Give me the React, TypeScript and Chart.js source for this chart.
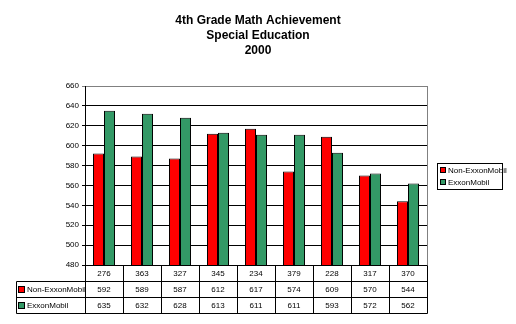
import React, { useEffect, useRef } from "react";
import { Chart, registerables } from "chart.js";

Chart.register(...registerables);

const titleLines = ["4th Grade Math Achievement", "Special Education", "2000"];
const categories = ["276", "363", "327", "345", "234", "379", "228", "317", "370"];
const nonExxon = [592, 589, 587, 612, 617, 574, 609, 570, 544];
const exxon = [635, 632, 628, 613, 611, 611, 593, 572, 562];
const seriesNames = ["Non-ExxonMobil", "ExxonMobil"];
const seriesColors = ["#FF0000", "#339966"];
const yMin = 480;
const yMax = 660;
const yStep = 20;

const SMALL_FAMILY = "'Liberation Sans', Arial, sans-serif";
const SMALL_FONT = "8px " + SMALL_FAMILY;

const overlayPlugin = {
  id: "overlay",
  afterDraw(chart: any) {
    const ctx = chart.ctx as CanvasRenderingContext2D;
    const area = chart.chartArea;
    const xs = chart.scales.x;
    ctx.save();

    // Title
    ctx.fillStyle = "#000";
    ctx.font = "bold 12px 'Liberation Sans', Arial, sans-serif";
    ctx.textAlign = "center";
    ctx.textBaseline = "middle";
    titleLines.forEach((t, i) => ctx.fillText(t, 258, 21 + i * 15));

    // right plot border (gray)
    ctx.strokeStyle = "#808080";
    ctx.lineWidth = 1;
    ctx.beginPath();
    ctx.moveTo(Math.round(area.right) + 0.5, area.top);
    ctx.lineTo(Math.round(area.right) + 0.5, area.bottom);
    ctx.stroke();

    // Data table
    const left = Math.round(area.left) + 0.5;
    const right = Math.round(area.right) + 0.5;
    const rowH = 16;
    const top = Math.round(area.bottom) + 0.5;
    const tableLeft = 16.5;
    ctx.strokeStyle = "#000";
    ctx.beginPath();
    ctx.moveTo(left, top);
    ctx.lineTo(right, top);
    for (let r = 1; r <= 3; r++) {
      ctx.moveTo(tableLeft, top + r * rowH);
      ctx.lineTo(right, top + r * rowH);
    }
    const n = categories.length;
    const cw = (area.right - area.left) / n;
    for (let i = 0; i <= n; i++) {
      const x = Math.round(area.left + i * cw) + 0.5;
      ctx.moveTo(x, top);
      ctx.lineTo(x, top + 3 * rowH);
    }
    ctx.moveTo(tableLeft, top + rowH);
    ctx.lineTo(tableLeft, top + 3 * rowH);
    ctx.stroke();

    ctx.font = SMALL_FONT;
    ctx.fillStyle = "#000";
    ctx.textAlign = "center";
    ctx.textBaseline = "middle";
    categories.forEach((c, i) => {
      const cx = xs.getPixelForValue(i);
      ctx.fillText(c, cx, top + rowH / 2);
      ctx.fillText(String(nonExxon[i]), cx, top + rowH * 1.5);
      ctx.fillText(String(exxon[i]), cx, top + rowH * 2.5);
    });

    seriesNames.forEach((name, s) => {
      const cy = top + rowH * (1.5 + s);
      ctx.fillStyle = seriesColors[s];
      ctx.fillRect(19, Math.round(cy) - 3, 5, 5);
      ctx.strokeStyle = "#000";
      ctx.strokeRect(18.5, Math.round(cy) - 3.5, 6, 6);
      ctx.fillStyle = "#000";
      ctx.textAlign = "left";
      ctx.fillText(name, 27, cy);
    });

    // Legend box
    ctx.strokeStyle = "#000";
    ctx.strokeRect(437.5, 163.5, 65, 26);
    seriesNames.forEach((name, s) => {
      const cy = 170.5 + s * 12;
      ctx.fillStyle = seriesColors[s];
      ctx.fillRect(441, Math.round(cy) - 3, 4, 4);
      ctx.strokeStyle = "#000";
      ctx.strokeRect(440.5, Math.round(cy) - 3.5, 5, 5);
      ctx.fillStyle = "#000";
      ctx.textAlign = "left";
      ctx.fillText(name, 448, cy);
    });

    ctx.restore();
  },
};

export default function App() {
  const ref = useRef<HTMLCanvasElement | null>(null);
  useEffect(() => {
    if (!ref.current) return;
    const chart = new Chart(ref.current, {
      type: "bar",
      data: {
        labels: categories,
        datasets: [
          {
            label: seriesNames[0],
            data: nonExxon,
            backgroundColor: seriesColors[0],
            borderColor: "#000",
            borderWidth: 1,
            categoryPercentage: 0.58,
            barPercentage: 1,
          },
          {
            label: seriesNames[1],
            data: exxon,
            backgroundColor: seriesColors[1],
            borderColor: "#000",
            borderWidth: 1,
            categoryPercentage: 0.58,
            barPercentage: 1,
          },
        ],
      },
      options: {
        responsive: false,
        animation: false,
        devicePixelRatio: 1,
        layout: { padding: { left: 0, top: 86, right: 89, bottom: 59 } },
        plugins: {
          legend: { display: false },
          title: { display: false },
          tooltip: { enabled: false },
        },
        scales: {
          x: {
            type: "category",
            display: false,
            offset: true,
            grid: { display: false },
          },
          y: {
            min: yMin,
            max: yMax,
            afterFit: (scale: any) => {
              scale.width = 85;
            },
            ticks: {
              stepSize: yStep,
              color: "#000",
              padding: 3,
              font: { family: SMALL_FAMILY, size: 8 },
            },
            grid: {
              color: (c: any) => (c.tick && c.tick.value === yMax ? "#808080" : "#000"),
              tickLength: 3,
              lineWidth: 1,
            },
            border: { color: "#000", width: 1 },
          },
        },
      },
      plugins: [overlayPlugin],
    });
    return () => chart.destroy();
  }, []);
  return (
    <div style={{ position: "absolute", left: 0, top: 0, width: 516, height: 324 }}>
      <canvas ref={ref} width={516} height={324} />
    </div>
  );
}
